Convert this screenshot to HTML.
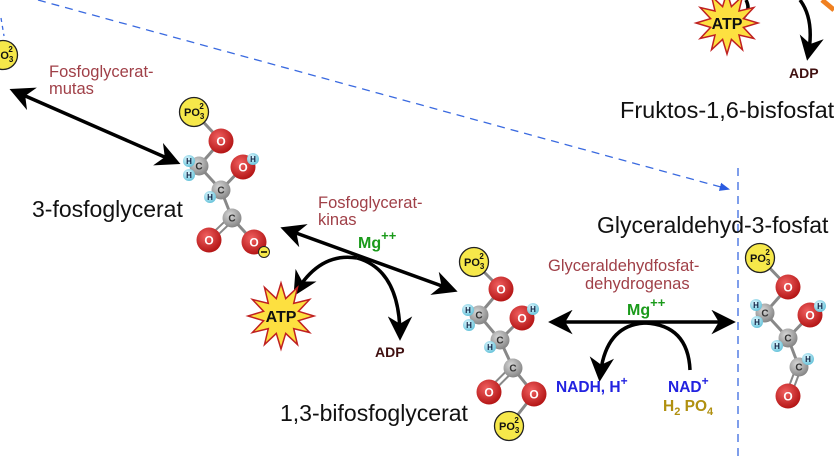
<!DOCTYPE html>
<html><head><meta charset="utf-8"><style>
html,body{margin:0;padding:0;background:#fff;width:834px;height:461px;overflow:hidden}
svg{display:block}
text{font-family:"Liberation Sans",sans-serif}
</style></head><body>
<svg id="s" width="834" height="461" viewBox="0 0 834 461" xmlns="http://www.w3.org/2000/svg">
<defs>
<radialGradient id="gr" cx="0.4" cy="0.35" r="0.7"><stop offset="0" stop-color="#f06060"/><stop offset="1" stop-color="#b01010"/></radialGradient>
<radialGradient id="gg" cx="0.4" cy="0.35" r="0.7"><stop offset="0" stop-color="#d8d8d8"/><stop offset="1" stop-color="#808080"/></radialGradient>
<radialGradient id="gh" cx="0.4" cy="0.35" r="0.7"><stop offset="0" stop-color="#e0f8ff"/><stop offset="1" stop-color="#60c0d8"/></radialGradient>
<marker id="ah" viewBox="0 0 10 10" refX="8" refY="5" markerWidth="7" markerHeight="7" orient="auto-start-reverse"><path d="M0,0 L10,5 L0,10 L3,5 z" fill="#000"/></marker>
<marker id="bh" viewBox="0 0 10 10" refX="8" refY="5" markerWidth="8" markerHeight="8" orient="auto"><path d="M0,1 L10,5 L0,9 z" fill="#2a5be0"/></marker>
</defs>
<line x1="38" y1="0" x2="728" y2="189" stroke="#3a6ae0" stroke-width="1.3" stroke-dasharray="8,6" marker-end="url(#bh)"/>
<line x1="738" y1="168" x2="738" y2="461" stroke="#3a6ae0" stroke-width="1.3" stroke-dasharray="8,6"/>
<line x1="1" y1="18" x2="4" y2="36" stroke="#3a6ae0" stroke-width="1.3" stroke-dasharray="4,4"/>
<path d="M822,0 L834,10" stroke="#f08020" stroke-width="5"/>
<line x1="14" y1="91" x2="176" y2="162" stroke="#000" stroke-width="3.5" marker-start="url(#ah)" marker-end="url(#ah)"/>
<line x1="285" y1="229" x2="453" y2="290" stroke="#000" stroke-width="3.5" marker-start="url(#ah)" marker-end="url(#ah)"/>
<path d="M296,292 Q320,252 357,258" fill="none" stroke="#000" stroke-width="3.5" marker-start="url(#ah)"/>
<path d="M357,258 Q400,270 400,336" fill="none" stroke="#000" stroke-width="3.5" marker-end="url(#ah)"/>
<line x1="553" y1="322" x2="731" y2="322" stroke="#000" stroke-width="3.5" marker-start="url(#ah)" marker-end="url(#ah)"/>
<path d="M690,370 Q688,325 645,323 Q605,325 600,377" fill="none" stroke="#000" stroke-width="3.5" marker-end="url(#ah)"/>
<path d="M746,0 Q752,12 740,20" fill="none" stroke="#000" stroke-width="3.5"/>
<path d="M800,0 Q815,20 808,56" fill="none" stroke="#000" stroke-width="3.5" marker-end="url(#ah)"/>
<g id="mol"></g>
<text x="620" y="118" font-size="23.5" fill="#111">Fruktos-1,6-bisfosfat</text>
<text x="32" y="217" font-size="23" fill="#111">3-fosfoglycerat</text>
<text x="597" y="233" font-size="23" fill="#111">Glyceraldehyd-3-fosfat</text>
<text x="280" y="421" font-size="23" fill="#111">1,3-bifosfoglycerat</text>
<text x="49" y="77" font-size="16.5" fill="#a04048">Fosfoglycerat-</text>
<text x="49" y="94" font-size="16.5" fill="#a04048">mutas</text>
<text x="318" y="208" font-size="16.5" fill="#a04048">Fosfoglycerat-</text>
<text x="318" y="225" font-size="16.5" fill="#a04048">kinas</text>
<text x="358" y="248" font-size="16" font-weight="bold" fill="#1a9a1a">Mg<tspan font-size="13" dy="-8">++</tspan></text>
<text x="548" y="271" font-size="16.5" fill="#a04048">Glyceraldehydfosfat-</text>
<text x="585" y="289" font-size="16.5" fill="#a04048">dehydrogenas</text>
<text x="627" y="315" font-size="16" font-weight="bold" fill="#1a9a1a">Mg<tspan font-size="13" dy="-8">++</tspan></text>
<text x="556" y="392" font-size="15.5" font-weight="bold" fill="#2222e0">NADH, H<tspan font-size="12" dy="-7">+</tspan></text>
<text x="668" y="392" font-size="15.5" font-weight="bold" fill="#2222e0">NAD<tspan font-size="12" dy="-7">+</tspan></text>
<text x="663" y="411" font-size="15.5" font-weight="bold" fill="#b09010">H<tspan font-size="11" dy="4">2</tspan><tspan dy="-4"> PO</tspan><tspan font-size="11" dy="4">4</tspan></text>
<text x="375" y="357" font-size="14" font-weight="bold" fill="#401010">ADP</text>
<text x="789" y="78" font-size="14" font-weight="bold" fill="#401010">ADP</text>
</svg>
<script>
var NS="http://www.w3.org/2000/svg",m=document.getElementById('mol');
function el(t,a,p){var e=document.createElementNS(NS,t);for(var k in a)e.setAttribute(k,a[k]);(p||m).appendChild(e);return e;}
function star(cx,cy,R,r){var p=[];for(var i=0;i<24;i++){var a=Math.PI*i/12-Math.PI/2,rr=i%2?r:R;p.push((cx+rr*Math.cos(a)).toFixed(1)+","+(cy+rr*Math.sin(a)).toFixed(1));}
el('polygon',{points:p.join(' '),fill:'#fde040',stroke:'#c02020','stroke-width':1.5});
var t=el('text',{x:cx,y:cy+6,'font-size':16,'font-weight':'bold','text-anchor':'middle',fill:'#111'});t.textContent='ATP';}
function bond(a,b){el('line',{x1:a[0],y1:a[1],x2:b[0],y2:b[1],stroke:'#888','stroke-width':3});}
function dbl(a,b){var dx=b[0]-a[0],dy=b[1]-a[1],L=Math.hypot(dx,dy),nx=-dy/L*2.5,ny=dx/L*2.5;
el('line',{x1:a[0]+nx,y1:a[1]+ny,x2:b[0]+nx,y2:b[1]+ny,stroke:'#888','stroke-width':2});el('line',{x1:a[0]-nx,y1:a[1]-ny,x2:b[0]-nx,y2:b[1]-ny,stroke:'#888','stroke-width':2});}
function atom(p,k){var c={O:['url(#gr)',12.5,'#fff',12],C:['url(#gg)',9.5,'#333',10],H:['url(#gh)',6,'#124',8]}[k];
el('circle',{cx:p[0],cy:p[1],r:c[1],fill:c[0]});var t=el('text',{x:p[0],y:p[1]+c[3]/2.8,'font-size':c[3],'font-weight':'bold','text-anchor':'middle',fill:c[2]});t.textContent=k;}
function po(p){el('circle',{cx:p[0],cy:p[1],r:14.5,fill:'#f6e84a',stroke:'#222','stroke-width':1.3});
var t=el('text',{x:p[0]-10,y:p[1]+4,'font-size':11,'font-weight':'bold',fill:'#111'});t.innerHTML='PO<tspan font-size="8" dy="3">3</tspan><tspan font-size="8" dx="-5" dy="-10">2</tspan>';}
function mol(d){d.bonds.forEach(function(b){(b[2]?dbl:bond)(b[0],b[1]);});d.po.forEach(po);d.atoms.forEach(function(a){atom(a[0],a[1]);});
if(d.minus){el('circle',{cx:d.minus[0],cy:d.minus[1],r:5.5,fill:'#f6e84a',stroke:'#222'});el('line',{x1:d.minus[0]-3,y1:d.minus[1],x2:d.minus[0]+3,y2:d.minus[1],stroke:'#000','stroke-width':1.5});}}
var P=[194,112],O1=[221,141],C1=[199,166],O2=[243,167],C2=[221,190],C3=[232,218],O3=[209,240],O4=[254,242];
mol({po:[P],bonds:[[P,O1],[O1,C1],[C1,C2],[C2,O2],[C2,C3],[C3,O3,1],[C3,O4],[C1,[189,161]],[C1,[189,175]],[O2,[253,159]],[C2,[210,197]]],
atoms:[[O1,'O'],[C1,'C'],[O2,'O'],[C2,'C'],[C3,'C'],[O3,'O'],[O4,'O'],[[189,161],'H'],[[189,175],'H'],[[253,159],'H'],[[210,197],'H']],minus:[264,252]});
P=[474,262];O1=[501,289];C1=[479,315];O2=[522,318];C2=[500,340];C3=[513,368];O3=[489,392];O4=[534,394];var P2=[509,426];
mol({po:[P,P2],bonds:[[P,O1],[O1,C1],[C1,C2],[C2,O2],[C2,C3],[C3,O3,1],[C3,O4],[O4,P2],[C1,[468,310]],[C1,[469,325]],[O2,[533,309]],[C2,[490,347]]],
atoms:[[O1,'O'],[C1,'C'],[O2,'O'],[C2,'C'],[C3,'C'],[O3,'O'],[O4,'O'],[[468,310],'H'],[[469,325],'H'],[[533,309],'H'],[[490,347],'H']]});
P=[760,258];O1=[788,287];C1=[765,313];O2=[810,315];C2=[788,338];C3=[799,367];O3=[788,396];
mol({po:[P],bonds:[[P,O1],[O1,C1],[C1,C2],[C2,O2],[C2,C3],[C3,O3,1],[C1,[756,305]],[C1,[757,322]],[O2,[820,306]],[C2,[777,346]],[C3,[808,359]]],
atoms:[[O1,'O'],[C1,'C'],[O2,'O'],[C2,'C'],[C3,'C'],[O3,'O'],[[756,305],'H'],[[757,322],'H'],[[820,306],'H'],[[777,346],'H'],[[808,359],'H']]});
po([3,55]);
star(281,316,33,18);
star(727,23,31,17);
</script>
</body></html>
